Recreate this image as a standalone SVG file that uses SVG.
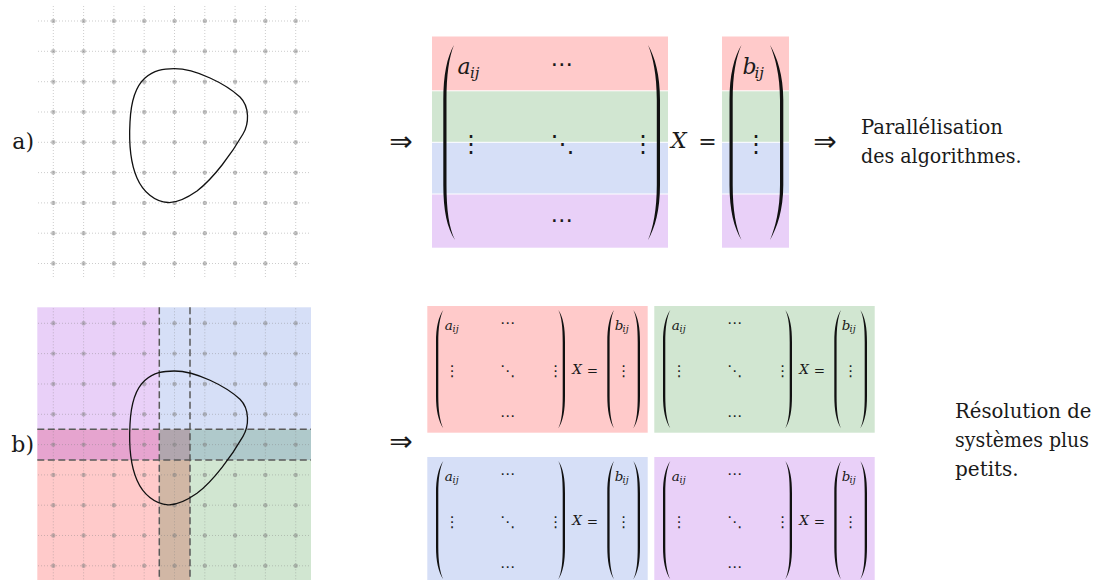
<svg xmlns="http://www.w3.org/2000/svg" width="1096" height="580" viewBox="0 0 1096 580">
<style>
.txt{fill:#1a1a1a;font-family:"DejaVu Serif",serif}
.it{font-style:italic}
.dots{fill:#1a1a1a;font-family:"DejaVu Sans",sans-serif}
.gl{stroke:#808080;stroke-opacity:0.5;stroke-width:0.8;stroke-dasharray:1 2;fill:none}
.gd{fill:#808080;fill-opacity:0.5}
.dash{stroke:#5a5a5a;stroke-width:1.5;stroke-dasharray:7 3.5;fill:none}
.curve{fill:none;stroke:#111;stroke-width:1.3}
.par{fill:#111}
</style>
<defs>
<g id="grid">
<path class="gl" d="M38,21H311M38,51.3H311M38,81.7H311M38,112H311M38,142.3H311M38,172.6H311M38,202.9H311M38,233.2H311M38,263.5H311M53.3,6V278.5M83.6,6V278.5M113.9,6V278.5M144.2,6V278.5M174.5,6V278.5M204.8,6V278.5M235.1,6V278.5M265.4,6V278.5M295.7,6V278.5"/>
<g class="gd">
<circle cx="53.3" cy="21" r="2.2"/><circle cx="83.6" cy="21" r="2.2"/><circle cx="113.9" cy="21" r="2.2"/><circle cx="144.2" cy="21" r="2.2"/><circle cx="174.5" cy="21" r="2.2"/><circle cx="204.8" cy="21" r="2.2"/><circle cx="235.1" cy="21" r="2.2"/><circle cx="265.4" cy="21" r="2.2"/><circle cx="295.7" cy="21" r="2.2"/>
<circle cx="53.3" cy="51.3" r="2.2"/><circle cx="83.6" cy="51.3" r="2.2"/><circle cx="113.9" cy="51.3" r="2.2"/><circle cx="144.2" cy="51.3" r="2.2"/><circle cx="174.5" cy="51.3" r="2.2"/><circle cx="204.8" cy="51.3" r="2.2"/><circle cx="235.1" cy="51.3" r="2.2"/><circle cx="265.4" cy="51.3" r="2.2"/><circle cx="295.7" cy="51.3" r="2.2"/>
<circle cx="53.3" cy="81.7" r="2.2"/><circle cx="83.6" cy="81.7" r="2.2"/><circle cx="113.9" cy="81.7" r="2.2"/><circle cx="144.2" cy="81.7" r="2.2"/><circle cx="174.5" cy="81.7" r="2.2"/><circle cx="204.8" cy="81.7" r="2.2"/><circle cx="235.1" cy="81.7" r="2.2"/><circle cx="265.4" cy="81.7" r="2.2"/><circle cx="295.7" cy="81.7" r="2.2"/>
<circle cx="53.3" cy="112" r="2.2"/><circle cx="83.6" cy="112" r="2.2"/><circle cx="113.9" cy="112" r="2.2"/><circle cx="144.2" cy="112" r="2.2"/><circle cx="174.5" cy="112" r="2.2"/><circle cx="204.8" cy="112" r="2.2"/><circle cx="235.1" cy="112" r="2.2"/><circle cx="265.4" cy="112" r="2.2"/><circle cx="295.7" cy="112" r="2.2"/>
<circle cx="53.3" cy="142.3" r="2.2"/><circle cx="83.6" cy="142.3" r="2.2"/><circle cx="113.9" cy="142.3" r="2.2"/><circle cx="144.2" cy="142.3" r="2.2"/><circle cx="174.5" cy="142.3" r="2.2"/><circle cx="204.8" cy="142.3" r="2.2"/><circle cx="235.1" cy="142.3" r="2.2"/><circle cx="265.4" cy="142.3" r="2.2"/><circle cx="295.7" cy="142.3" r="2.2"/>
<circle cx="53.3" cy="172.6" r="2.2"/><circle cx="83.6" cy="172.6" r="2.2"/><circle cx="113.9" cy="172.6" r="2.2"/><circle cx="144.2" cy="172.6" r="2.2"/><circle cx="174.5" cy="172.6" r="2.2"/><circle cx="204.8" cy="172.6" r="2.2"/><circle cx="235.1" cy="172.6" r="2.2"/><circle cx="265.4" cy="172.6" r="2.2"/><circle cx="295.7" cy="172.6" r="2.2"/>
<circle cx="53.3" cy="202.9" r="2.2"/><circle cx="83.6" cy="202.9" r="2.2"/><circle cx="113.9" cy="202.9" r="2.2"/><circle cx="144.2" cy="202.9" r="2.2"/><circle cx="174.5" cy="202.9" r="2.2"/><circle cx="204.8" cy="202.9" r="2.2"/><circle cx="235.1" cy="202.9" r="2.2"/><circle cx="265.4" cy="202.9" r="2.2"/><circle cx="295.7" cy="202.9" r="2.2"/>
<circle cx="53.3" cy="233.2" r="2.2"/><circle cx="83.6" cy="233.2" r="2.2"/><circle cx="113.9" cy="233.2" r="2.2"/><circle cx="144.2" cy="233.2" r="2.2"/><circle cx="174.5" cy="233.2" r="2.2"/><circle cx="204.8" cy="233.2" r="2.2"/><circle cx="235.1" cy="233.2" r="2.2"/><circle cx="265.4" cy="233.2" r="2.2"/><circle cx="295.7" cy="233.2" r="2.2"/>
<circle cx="53.3" cy="263.5" r="2.2"/><circle cx="83.6" cy="263.5" r="2.2"/><circle cx="113.9" cy="263.5" r="2.2"/><circle cx="144.2" cy="263.5" r="2.2"/><circle cx="174.5" cy="263.5" r="2.2"/><circle cx="204.8" cy="263.5" r="2.2"/><circle cx="235.1" cy="263.5" r="2.2"/><circle cx="265.4" cy="263.5" r="2.2"/><circle cx="295.7" cy="263.5" r="2.2"/>
</g>
</g>
<path id="blob" d="M174.3,68.7 C196,68.7 226,84 240,97 C250,107 249,124 243,134 C232,153 214,178 197,191 C187,198 177,203 168,202.5 C155,202 143,192 137,178 C130,162 129,140 130,122 C131,100 136,86 145,78 C154,70 163,68.7 174.3,68.7 Z"/>
</defs>

<!-- Panel a -->
<g id="panel-a">
<text class="txt" x="34" y="149" font-size="22" text-anchor="end">a)</text>
<use href="#grid"/>
<use href="#blob" class="curve"/>
</g>

<!-- Panel b -->
<g id="panel-b">
<text class="txt" x="34" y="451.5" font-size="22" text-anchor="end">b)</text>
<rect x="37.3" y="307.3" width="122" height="122" fill="#e9d0f8"/>
<rect x="159.3" y="307.3" width="151.7" height="122" fill="#d6dff7"/>
<rect x="37.3" y="429.3" width="122" height="30.7" fill="#e6a4cf"/>
<rect x="159.3" y="429.3" width="30.7" height="30.7" fill="#b1a6ae"/>
<rect x="190" y="429.3" width="121" height="30.7" fill="#afc9cb"/>
<rect x="37.3" y="460" width="122" height="120" fill="#ffcaca"/>
<rect x="159.3" y="460" width="30.7" height="120" fill="#d1b7a5"/>
<rect x="190" y="460" width="121" height="120" fill="#d1e6d1"/>
<use href="#grid" transform="translate(0,302.3)"/>
<path class="dash" d="M159.3,307.3V580M190,307.3V580M37.3,429.3H311M37.3,460H311"/>
<use href="#blob" class="curve" transform="translate(0,302.3)"/>
</g>

<!-- Big system -->
<g id="system-a">
<rect x="432" y="36.5" width="236" height="53.8" fill="#ffcaca"/>
<rect x="432" y="91.3" width="236" height="50.5" fill="#d1e6d1"/>
<rect x="432" y="142.8" width="236" height="50.7" fill="#d6dff7"/>
<rect x="432" y="194.5" width="236" height="53.2" fill="#e9d0f8"/>
<rect x="722" y="36.5" width="67" height="53.8" fill="#ffcaca"/>
<rect x="722" y="91.3" width="67" height="50.5" fill="#d1e6d1"/>
<rect x="722" y="142.8" width="67" height="50.7" fill="#d6dff7"/>
<rect x="722" y="194.5" width="67" height="53.2" fill="#e9d0f8"/>
<path class="par" d="M454,45 C447,57 443.3,75 443.3,100 L443.3,185 C443.3,210 447,228 455,240 C449,228 446.5,210 446.5,185 L446.5,100 C446.5,75 449,57 454,45 Z"/>
<path class="par" d="M648,45 C655,57 660,75 660,100 L660,185 C660,210 655,228 648,240 C653,228 656.8,210 656.8,185 L656.8,100 C656.8,75 653,57 648,45 Z"/>
<path class="par" d="M741.5,45 C734,57 729.5,75 729.5,100 L729.5,185 C729.5,210 734,228 741.5,240 C736,228 732.7,210 732.7,185 L732.7,100 C732.7,75 736,57 741.5,45 Z"/>
<path class="par" d="M770,45 C777,57 783.3,75 783.3,100 L783.3,185 C783.3,210 777,228 770,240 C775,228 780,210 780,185 L780,100 C780,75 775,57 770,45 Z"/>
<text class="txt it" x="457.5" y="74" font-size="22">a</text>
<text class="txt it" x="470" y="78" font-size="15">ij</text>
<text class="txt it" x="671" y="147.5" font-size="22">X</text>
<text class="txt" x="707.5" y="149" font-size="22" text-anchor="middle">=</text>
<text class="txt it" x="742.5" y="74" font-size="22">b</text>
<text class="txt it" x="754.5" y="78" font-size="15">ij</text>
<text class="dots" x="562" y="72" font-size="23" text-anchor="middle">⋯</text>
<text class="dots" x="471" y="152" font-size="24" text-anchor="middle">⋮</text>
<text class="dots" x="562.5" y="152" font-size="24" text-anchor="middle">⋱</text>
<text class="dots" x="643" y="152" font-size="24" text-anchor="middle">⋮</text>
<text class="dots" x="562" y="228" font-size="23" text-anchor="middle">⋯</text>
<text class="dots" x="756" y="152" font-size="24" text-anchor="middle">⋮</text>
</g>

<!-- Small systems -->
<g id="system-red" transform="translate(427.3,306)">
<rect x="0" y="0" width="220.4" height="126.7" fill="#ffcaca"/>
<path class="par" d="M16,4 C11,11 8.7,22 8.7,36 L8.7,90 C8.7,104 11,115 16,122.3 C12.5,115 11,104 11,90 L11,36 C11,22 12.5,11 16,4 Z"/>
<path class="par" d="M131,4 C136,11 137.7,22 137.7,36 L137.7,90 C137.7,104 136,115 131,122.3 C134.5,115 135.4,104 135.4,90 L135.4,36 C135.4,22 134.5,11 131,4 Z"/>
<path class="par" d="M186.7,4 C182,11 180,22 180,36 L180,90 C180,104 182,115 186.7,122.3 C183.5,115 182.3,104 182.3,90 L182.3,36 C182.3,22 183.5,11 186.7,4 Z"/>
<path class="par" d="M206,4 C211,11 212.7,22 212.7,36 L212.7,90 C212.7,104 211,115 206,122.3 C209.5,115 210.4,104 210.4,90 L210.4,36 C210.4,22 209.5,11 206,4 Z"/>
<text class="txt it" x="17.5" y="23.5" font-size="13.5">a</text><text class="txt it" x="25.3" y="26" font-size="9.5">ij</text>
<text class="txt it" x="145" y="67.5" font-size="13.5">X</text><text class="txt" x="165" y="68.5" font-size="13.5" text-anchor="middle">=</text>
<text class="txt it" x="187.5" y="23.5" font-size="13.5">b</text><text class="txt it" x="195.3" y="26" font-size="9.5">ij</text>
<text class="dots" x="80.2" y="21.5" font-size="15" text-anchor="middle">⋯</text>
<text class="dots" x="25" y="69.5" font-size="15" text-anchor="middle">⋮</text>
<text class="dots" x="80.2" y="69.5" font-size="15" text-anchor="middle">⋱</text>
<text class="dots" x="128.4" y="69.5" font-size="15" text-anchor="middle">⋮</text>
<text class="dots" x="80.2" y="114.5" font-size="15" text-anchor="middle">⋯</text>
<text class="dots" x="196.4" y="69.5" font-size="15" text-anchor="middle">⋮</text>
</g>
<g id="system-green" transform="translate(654.3,306)">
<rect x="0" y="0" width="220.4" height="126.7" fill="#d1e6d1"/>
<path class="par" d="M16,4 C11,11 8.7,22 8.7,36 L8.7,90 C8.7,104 11,115 16,122.3 C12.5,115 11,104 11,90 L11,36 C11,22 12.5,11 16,4 Z"/>
<path class="par" d="M131,4 C136,11 137.7,22 137.7,36 L137.7,90 C137.7,104 136,115 131,122.3 C134.5,115 135.4,104 135.4,90 L135.4,36 C135.4,22 134.5,11 131,4 Z"/>
<path class="par" d="M186.7,4 C182,11 180,22 180,36 L180,90 C180,104 182,115 186.7,122.3 C183.5,115 182.3,104 182.3,90 L182.3,36 C182.3,22 183.5,11 186.7,4 Z"/>
<path class="par" d="M206,4 C211,11 212.7,22 212.7,36 L212.7,90 C212.7,104 211,115 206,122.3 C209.5,115 210.4,104 210.4,90 L210.4,36 C210.4,22 209.5,11 206,4 Z"/>
<text class="txt it" x="17.5" y="23.5" font-size="13.5">a</text><text class="txt it" x="25.3" y="26" font-size="9.5">ij</text>
<text class="txt it" x="145" y="67.5" font-size="13.5">X</text><text class="txt" x="165" y="68.5" font-size="13.5" text-anchor="middle">=</text>
<text class="txt it" x="187.5" y="23.5" font-size="13.5">b</text><text class="txt it" x="195.3" y="26" font-size="9.5">ij</text>
<text class="dots" x="80.2" y="21.5" font-size="15" text-anchor="middle">⋯</text>
<text class="dots" x="25" y="69.5" font-size="15" text-anchor="middle">⋮</text>
<text class="dots" x="80.2" y="69.5" font-size="15" text-anchor="middle">⋱</text>
<text class="dots" x="128.4" y="69.5" font-size="15" text-anchor="middle">⋮</text>
<text class="dots" x="80.2" y="114.5" font-size="15" text-anchor="middle">⋯</text>
<text class="dots" x="196.4" y="69.5" font-size="15" text-anchor="middle">⋮</text>
</g>
<g id="system-blue" transform="translate(427.3,457)">
<rect x="0" y="0" width="220.4" height="126.7" fill="#d6dff7"/>
<path class="par" d="M16,4 C11,11 8.7,22 8.7,36 L8.7,90 C8.7,104 11,115 16,122.3 C12.5,115 11,104 11,90 L11,36 C11,22 12.5,11 16,4 Z"/>
<path class="par" d="M131,4 C136,11 137.7,22 137.7,36 L137.7,90 C137.7,104 136,115 131,122.3 C134.5,115 135.4,104 135.4,90 L135.4,36 C135.4,22 134.5,11 131,4 Z"/>
<path class="par" d="M186.7,4 C182,11 180,22 180,36 L180,90 C180,104 182,115 186.7,122.3 C183.5,115 182.3,104 182.3,90 L182.3,36 C182.3,22 183.5,11 186.7,4 Z"/>
<path class="par" d="M206,4 C211,11 212.7,22 212.7,36 L212.7,90 C212.7,104 211,115 206,122.3 C209.5,115 210.4,104 210.4,90 L210.4,36 C210.4,22 209.5,11 206,4 Z"/>
<text class="txt it" x="17.5" y="23.5" font-size="13.5">a</text><text class="txt it" x="25.3" y="26" font-size="9.5">ij</text>
<text class="txt it" x="145" y="67.5" font-size="13.5">X</text><text class="txt" x="165" y="68.5" font-size="13.5" text-anchor="middle">=</text>
<text class="txt it" x="187.5" y="23.5" font-size="13.5">b</text><text class="txt it" x="195.3" y="26" font-size="9.5">ij</text>
<text class="dots" x="80.2" y="21.5" font-size="15" text-anchor="middle">⋯</text>
<text class="dots" x="25" y="69.5" font-size="15" text-anchor="middle">⋮</text>
<text class="dots" x="80.2" y="69.5" font-size="15" text-anchor="middle">⋱</text>
<text class="dots" x="128.4" y="69.5" font-size="15" text-anchor="middle">⋮</text>
<text class="dots" x="80.2" y="114.5" font-size="15" text-anchor="middle">⋯</text>
<text class="dots" x="196.4" y="69.5" font-size="15" text-anchor="middle">⋮</text>
</g>
<g id="system-purple" transform="translate(654.3,457)">
<rect x="0" y="0" width="220.4" height="126.7" fill="#e9d0f8"/>
<path class="par" d="M16,4 C11,11 8.7,22 8.7,36 L8.7,90 C8.7,104 11,115 16,122.3 C12.5,115 11,104 11,90 L11,36 C11,22 12.5,11 16,4 Z"/>
<path class="par" d="M131,4 C136,11 137.7,22 137.7,36 L137.7,90 C137.7,104 136,115 131,122.3 C134.5,115 135.4,104 135.4,90 L135.4,36 C135.4,22 134.5,11 131,4 Z"/>
<path class="par" d="M186.7,4 C182,11 180,22 180,36 L180,90 C180,104 182,115 186.7,122.3 C183.5,115 182.3,104 182.3,90 L182.3,36 C182.3,22 183.5,11 186.7,4 Z"/>
<path class="par" d="M206,4 C211,11 212.7,22 212.7,36 L212.7,90 C212.7,104 211,115 206,122.3 C209.5,115 210.4,104 210.4,90 L210.4,36 C210.4,22 209.5,11 206,4 Z"/>
<text class="txt it" x="17.5" y="23.5" font-size="13.5">a</text><text class="txt it" x="25.3" y="26" font-size="9.5">ij</text>
<text class="txt it" x="145" y="67.5" font-size="13.5">X</text><text class="txt" x="165" y="68.5" font-size="13.5" text-anchor="middle">=</text>
<text class="txt it" x="187.5" y="23.5" font-size="13.5">b</text><text class="txt it" x="195.3" y="26" font-size="9.5">ij</text>
<text class="dots" x="80.2" y="21.5" font-size="15" text-anchor="middle">⋯</text>
<text class="dots" x="25" y="69.5" font-size="15" text-anchor="middle">⋮</text>
<text class="dots" x="80.2" y="69.5" font-size="15" text-anchor="middle">⋱</text>
<text class="dots" x="128.4" y="69.5" font-size="15" text-anchor="middle">⋮</text>
<text class="dots" x="80.2" y="114.5" font-size="15" text-anchor="middle">⋯</text>
<text class="dots" x="196.4" y="69.5" font-size="15" text-anchor="middle">⋮</text>
</g>

<!-- Implication arrows -->
<g id="connectors">
<text class="dots" x="401" y="151" font-size="28" text-anchor="middle">⇒</text>
<text class="dots" x="825" y="151" font-size="28" text-anchor="middle">⇒</text>
<text class="dots" x="401" y="451" font-size="28" text-anchor="middle">⇒</text>
</g>

<!-- Captions -->
<g id="caption-a">
<text class="txt" x="861" y="134.3" font-size="20" textLength="142" lengthAdjust="spacingAndGlyphs">Parallélisation</text>
<text class="txt" x="861" y="163.3" font-size="20" textLength="160.5" lengthAdjust="spacingAndGlyphs">des algorithmes.</text>
</g>
<g id="caption-b">
<text class="txt" x="955" y="418" font-size="20" textLength="136.5" lengthAdjust="spacingAndGlyphs">Résolution de</text>
<text class="txt" x="955" y="447" font-size="20" textLength="134" lengthAdjust="spacingAndGlyphs">systèmes plus</text>
<text class="txt" x="955" y="476" font-size="20">petits.</text>
</g>
</svg>
